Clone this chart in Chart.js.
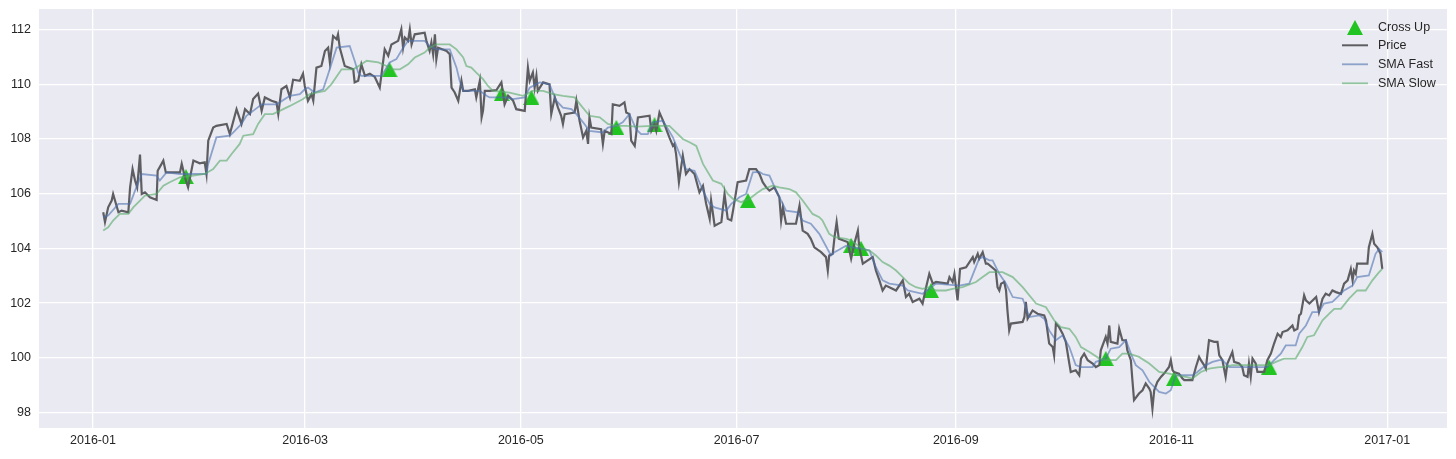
<!DOCTYPE html>
<html>
<head>
<meta charset="utf-8">
<script src="https://cdn.jsdelivr.net/npm/chart.js@4.4.1/dist/chart.umd.min.js"></script>
<style>
  html, body { margin: 0; padding: 0; background: #fff; }
  #chart { display: block; }
</style>
</head>
<body>
<canvas id="chart" width="1456" height="459"></canvas>
<script>
// x values are days since 2016-01-01
const tickDays = [0, 60, 121, 182, 244, 305, 366];
const tickLabels = ['2016-01', '2016-03', '2016-05', '2016-07', '2016-09', '2016-11', '2017-01'];
const yTicks = [98, 100, 102, 104, 106, 108, 110, 112];

const priceSeries = [
  [2.9,105.32],[3.4,104.96],[4.3,105.50],[5.3,105.75],[5.7,105.99],[6.5,105.63],[7.2,105.32],[8.1,105.38],[10.0,105.32],[10.5,106.23],
  [11.2,106.90],[11.9,106.48],[12.5,106.23],[13.3,107.43],[13.8,105.99],[14.7,106.05],[16.1,105.87],[18.0,105.77],[18.3,106.84],[19.4,107.09],
  [19.9,107.21],[20.6,106.78],[22.7,106.78],[24.6,106.78],[25.1,107.09],[26.0,106.60],[26.9,106.23],[28.4,107.21],[30.2,107.11],[31.6,107.15],
  [32.1,106.72],[32.6,107.94],[34.0,108.42],[34.9,108.48],[37.8,108.55],[38.7,108.18],[40.6,109.09],[42.0,108.55],[43.0,109.09],[44.4,108.91],
  [45.3,109.46],[46.7,109.66],[47.7,109.03],[48.6,109.52],[50.5,109.40],[51.9,109.34],[52.4,108.91],[53.3,109.82],[54.7,109.94],[55.7,109.52],
  [56.6,110.17],[58.5,110.13],[59.4,110.39],[59.9,109.94],[60.8,109.40],[61.8,109.64],[62.3,109.40],[63.2,110.61],[64.6,110.67],[65.6,111.22],
  [66.5,111.34],[67.0,110.80],[67.9,111.77],[68.9,111.65],[69.3,111.83],[69.8,111.34],[70.3,111.10],[71.2,110.67],[73.6,110.55],[74.0,110.07],
  [75.0,110.13],[75.9,110.73],[76.9,110.31],[78.3,110.39],[79.7,110.27],[81.1,109.88],[81.6,110.37],[82.5,111.28],[83.5,111.04],[84.4,111.46],
  [86.3,111.59],[87.2,112.01],[87.7,111.34],[88.2,111.71],[89.1,111.59],[89.6,112.01],[90.1,111.46],[91.0,111.83],[93.8,111.89],[94.3,111.59],
  [95.2,111.22],[95.7,111.53],[96.2,111.10],[96.7,111.83],[97.1,110.92],[97.6,111.34],[100.0,111.22],[100.9,111.10],[101.4,109.88],[102.3,109.70],
  [103.3,109.40],[104.2,110.13],[104.7,109.76],[106.1,109.76],[108.0,109.82],[108.4,109.52],[109.4,110.13],[109.9,108.79],[110.3,109.03],[110.8,109.76],
  [112.2,109.76],[114.1,109.79],[115.5,110.07],[116.4,109.27],[117.4,109.58],[118.8,109.40],[119.7,109.09],[122.1,109.03],[123.0,110.61],[123.5,110.13],
  [124.4,110.43],[124.9,109.88],[125.4,110.31],[125.8,109.76],[127.3,110.07],[129.1,110.00],[129.6,108.91],[130.6,109.52],[131.5,109.15],[132.4,108.85],
  [132.9,108.55],[133.4,108.91],[136.2,108.97],[136.7,109.40],[137.6,108.67],[138.6,108.06],[139.5,108.30],[140.0,107.82],[140.4,108.79],[140.9,108.42],
  [143.7,108.36],[144.2,107.82],[144.7,108.30],[146.6,108.18],[147.0,109.27],[148.9,109.21],[150.3,109.34],[150.8,108.97],[151.7,108.91],[152.2,107.94],
  [153.2,107.75],[153.6,108.18],[154.1,108.79],[157.4,108.85],[157.9,108.30],[158.8,108.55],[159.3,108.30],[160.2,108.97],[161.2,108.67],[163.0,108.06],
  [164.0,107.75],[164.4,107.82],[164.9,107.45],[165.7,106.42],[166.8,107.39],[167.7,106.72],[168.7,106.90],[170.1,106.72],[171.5,106.05],[172.5,106.29],
  [173.4,105.63],[174.4,105.08],[174.8,105.75],[175.8,104.83],[177.7,104.96],[178.6,105.99],[179.5,105.08],[180.5,105.02],[181.0,105.38],[182.3,106.42],
  [184.7,106.48],[185.6,106.90],[187.5,106.90],[188.5,106.72],[189.4,106.42],[190.4,106.23],[191.3,106.11],[192.7,106.23],[194.1,105.87],[194.6,105.02],
  [195.1,105.50],[196.0,104.90],[198.8,104.90],[199.8,105.56],[200.7,104.65],[202.1,104.53],[203.0,104.35],[204.0,104.04],[205.9,103.86],[207.3,103.68],
  [207.8,103.19],[208.2,103.74],[209.2,103.80],[209.7,104.41],[210.3,104.96],[210.9,104.35],[213.4,104.23],[214.4,103.62],[215.3,104.17],[216.3,104.65],
  [216.7,104.04],[217.7,103.44],[219.1,103.56],[220.5,103.68],[221.4,103.19],[222.4,102.83],[223.3,102.46],[224.2,102.64],[225.2,102.58],[227.1,102.46],
  [229.0,102.83],[229.9,102.22],[230.8,102.34],[231.8,102.04],[233.7,102.16],[234.6,101.98],[235.6,102.58],[236.5,103.07],[237.5,102.71],[238.4,102.77],
  [241.7,102.71],[242.2,102.95],[243.1,102.77],[243.6,103.07],[244.5,102.10],[245.2,103.25],[246.9,103.31],[248.8,103.68],[249.2,103.50],[250.2,103.80],
  [250.6,103.62],[251.6,103.86],[252.5,103.44],[253.0,103.44],[255.3,103.19],[255.8,102.58],[256.3,102.46],[256.8,102.71],[257.7,102.77],[258.2,102.46],
  [258.6,101.73],[259.1,101.00],[259.6,101.25],[262.9,101.31],[263.4,101.49],[263.8,102.04],[264.3,101.43],[265.7,101.73],[267.1,101.61],[269.0,101.55],
  [269.5,101.37],[270.4,100.52],[271.4,100.39],[271.8,100.09],[272.3,101.25],[273.2,101.12],[274.2,100.88],[275.1,100.58],[276.1,99.79],[276.5,99.48],
  [277.9,99.54],[278.9,99.36],[279.4,99.97],[280.3,100.15],[281.3,99.91],[282.7,99.79],[283.6,99.66],[284.6,99.73],[285.0,100.27],[286.4,100.76],
  [286.9,100.52],[287.4,101.18],[287.8,100.58],[289.7,100.52],[290.2,101.06],[291.1,100.64],[292.1,100.64],[292.5,100.27],[293.5,99.91],[293.9,99.24],
  [294.4,98.45],[295.8,98.69],[296.8,98.81],[297.7,99.06],[298.7,98.87],[299.1,98.75],[299.6,98.14],[300.1,98.81],[301.0,99.12],[302.0,99.30],
  [302.9,99.42],[304.3,99.66],[304.8,99.91],[305.3,99.54],[305.7,99.48],[307.1,99.42],[308.1,99.24],[308.6,99.18],[310.9,99.18],[311.9,99.66],
  [312.8,100.03],[313.3,99.91],[314.2,99.73],[314.7,99.60],[315.6,100.64],[317.1,100.58],[318.0,100.58],[318.5,100.09],[319.4,99.91],[320.3,99.30],
  [320.8,99.79],[322.2,100.21],[322.7,99.85],[324.1,99.79],[325.0,99.66],[325.5,99.36],[326.5,99.30],[326.9,99.79],[327.4,99.30],[327.9,99.97],
  [328.8,99.79],[329.3,99.48],[331.2,99.48],[332.1,99.91],[333.1,100.15],[334.0,100.52],[335.0,100.88],[335.9,100.76],[336.4,100.94],[337.8,101.00],
  [339.2,101.18],[339.7,101.00],[340.6,101.06],[341.1,101.55],[341.6,101.61],[342.5,102.28],[343.0,102.10],[344.0,101.98],[345.9,102.22],[346.7,101.67],
  [347.7,102.16],[348.6,102.34],[349.6,102.28],[350.5,102.46],[351.5,102.40],[352.9,102.34],[353.8,102.71],[354.8,102.83],[355.7,103.25],[356.2,102.83],
  [356.6,103.19],[357.1,103.07],[357.5,103.44],[360.4,103.44],[360.8,104.04],[361.8,104.53],[362.3,104.17],[363.2,104.04],[364.1,103.80],[364.6,103.25]
];

const fastSeries = [
  [2.9,105.14],[4.3,105.20],[7.2,105.63],[10.5,105.63],[11.9,106.11],[13.8,106.72],[18.0,106.66],[18.9,106.48],[20.8,106.78],[24.6,106.72],
  [32.1,106.72],[32.6,107.09],[34.9,108.06],[38.7,108.12],[39.7,108.24],[42.0,108.55],[43.4,108.85],[45.3,109.03],[47.7,109.27],[51.9,109.27],
  [52.8,109.34],[55.7,109.58],[58.5,109.64],[59.9,109.82],[60.8,109.88],[62.7,109.70],[65.1,109.82],[66.5,110.37],[68.9,111.34],[72.6,111.40],
  [74.0,110.86],[75.0,110.43],[75.9,110.31],[81.6,110.31],[83.9,110.80],[85.8,110.92],[87.7,111.34],[89.1,111.59],[93.8,111.59],[95.2,111.40],
  [97.1,111.28],[100.9,111.28],[102.8,110.61],[103.7,110.13],[104.7,109.76],[109.4,109.76],[111.3,109.58],[112.2,109.52],[116.9,109.52],[118.8,109.46],
  [122.1,109.52],[123.5,109.88],[126.3,110.07],[129.1,110.00],[131.0,109.40],[132.9,109.15],[135.3,109.09],[136.7,108.91],[138.6,108.61],[140.4,108.30],
  [144.2,108.24],[145.6,108.42],[148.0,108.48],[149.8,108.61],[151.7,108.91],[153.6,108.36],[155.0,108.18],[156.9,108.18],[158.3,108.61],[161.2,108.67],
  [164.0,108.06],[165.9,107.45],[167.7,106.90],[170.1,106.84],[172.5,106.11],[174.4,105.63],[175.8,105.50],[179.1,105.38],[180.5,105.63],[182.8,105.87],
  [184.7,105.99],[186.6,106.78],[188.5,106.80],[189.4,106.72],[191.3,106.66],[193.2,106.11],[196.0,105.38],[199.3,105.32],[200.7,105.02],[203.0,104.90],
  [205.4,104.53],[208.7,103.74],[209.7,103.86],[213.0,104.10],[214.8,104.04],[217.7,103.98],[219.6,103.92],[221.4,103.31],[223.3,102.83],[225.2,102.71],
  [229.0,102.64],[230.4,102.46],[234.6,102.34],[236.5,102.52],[238.4,102.71],[245.0,102.64],[247.8,102.71],[250.6,103.62],[251.6,103.68],[253.5,103.56],
  [254.4,103.56],[256.3,103.07],[258.2,102.71],[260.1,102.22],[262.9,102.16],[264.8,101.49],[267.6,101.55],[269.0,101.43],[270.4,101.00],[272.3,100.64],
  [274.2,100.82],[276.1,100.39],[277.9,99.73],[279.4,99.66],[282.7,99.66],[283.6,99.85],[286.4,99.97],[287.8,100.33],[290.2,100.39],[292.1,100.64],
  [293.5,100.15],[294.9,99.73],[296.8,99.54],[298.7,99.12],[301.5,98.75],[303.4,98.69],[304.8,98.81],[306.2,99.36],[308.1,99.36],[310.9,99.36],
  [312.3,99.48],[314.7,99.73],[316.6,99.85],[318.5,99.91],[319.4,99.91],[321.3,99.66],[326.9,99.66],[332.1,99.66],[334.0,99.91],[335.9,100.15],
  [337.3,100.45],[340.1,100.45],[341.1,100.88],[343.0,101.18],[344.8,101.67],[346.7,101.67],[348.1,101.98],[350.5,102.04],[351.9,102.22],[353.8,102.46],
  [356.2,102.64],[357.5,102.95],[360.8,103.01],[362.7,103.80],[363.7,103.98],[364.6,103.86]
];

const slowSeries = [
  [2.9,104.65],[4.3,104.77],[5.7,105.02],[7.6,105.26],[10.0,105.26],[11.4,105.50],[13.3,105.75],[14.7,105.93],[18.0,105.99],[19.9,106.29],
  [21.7,106.42],[24.6,106.60],[28.4,106.66],[31.6,106.72],[34.0,106.90],[35.9,107.21],[37.8,107.21],[39.2,107.45],[41.5,107.82],[42.5,108.12],
  [45.3,108.18],[46.7,108.55],[48.6,108.91],[50.9,108.91],[52.8,109.03],[55.7,109.21],[58.5,109.40],[59.4,109.46],[61.3,109.64],[63.2,109.70],
  [65.6,109.76],[67.4,110.00],[70.3,110.55],[73.6,110.55],[75.9,110.73],[77.4,110.86],[80.7,110.80],[83.0,110.67],[84.4,110.55],[86.8,110.55],
  [89.1,110.73],[91.0,110.98],[93.8,111.16],[95.2,111.34],[97.1,111.46],[100.9,111.46],[102.8,111.28],[104.7,110.98],[105.6,110.67],[107.0,110.61],
  [108.4,110.43],[110.3,110.19],[111.7,109.94],[113.1,109.76],[117.8,109.70],[121.6,109.58],[124.4,109.76],[127.3,109.76],[130.1,109.64],[132.9,109.58],
  [136.2,109.52],[138.1,109.21],[140.4,108.85],[143.3,108.79],[145.6,108.55],[148.0,108.48],[150.8,108.48],[153.6,108.45],[158.3,108.48],[163.0,108.48],
  [164.9,108.24],[166.8,108.00],[168.7,107.88],[170.6,107.75],[172.5,107.09],[175.3,106.48],[177.7,106.36],[179.5,105.99],[181.0,105.81],[183.3,105.69],
  [185.6,105.81],[187.5,106.00],[189.4,106.17],[192.2,106.29],[194.1,106.23],[196.9,106.17],[198.8,106.05],[200.7,105.75],[203.5,105.26],[205.4,105.14],
  [206.3,105.02],[208.2,104.53],[209.7,104.41],[213.0,104.35],[214.4,104.29],[217.7,103.98],[219.6,103.92],[221.4,103.74],[223.3,103.50],[225.2,103.37],
  [227.1,103.19],[229.0,102.95],[230.8,102.71],[232.7,102.58],[234.6,102.52],[236.5,102.58],[238.4,102.46],[241.2,102.46],[243.1,102.52],[245.9,102.58],
  [249.7,102.77],[251.6,102.95],[253.5,103.13],[254.4,103.13],[257.2,103.13],[260.1,102.95],[262.9,102.58],[266.7,101.98],[269.5,101.85],[271.8,101.37],
  [273.7,101.12],[276.1,101.06],[277.9,100.76],[279.4,100.39],[281.8,100.21],[284.6,99.97],[286.4,99.91],[289.3,99.91],[291.1,100.15],[293.0,100.15],
  [295.8,100.03],[298.7,99.79],[301.5,99.48],[304.3,99.42],[306.2,99.36],[309.0,99.30],[310.9,99.24],[313.3,99.48],[315.6,99.60],[318.5,99.66],
  [319.4,99.66],[322.2,99.73],[326.9,99.73],[332.6,99.73],[334.5,99.85],[336.8,99.97],[340.1,99.97],[342.0,100.39],[343.4,100.76],[345.3,100.82],
  [347.7,101.37],[349.6,101.61],[351.0,101.79],[352.9,101.79],[355.2,102.16],[357.5,102.46],[359.9,102.46],[361.8,102.83],[363.7,103.13],[364.6,103.25]
];

const crossSeries = [
  [26.3,106.62],[83.9,110.53],[115.6,109.66],[124.0,109.52],[148.0,108.42],[158.8,108.52],[185.2,105.75],
  [214.4,104.11],[217.2,104.00],[237.0,102.46],[286.4,99.97],[305.7,99.24],[332.6,99.66]
];

const toPoints = s => s.map(([x, y]) => ({ x, y }));

const BG = '#EAEAF2';
const PRICE_COLOR = '#5e5e62';
const FAST_COLOR = 'rgba(76,114,176,0.6)';
const SLOW_COLOR = 'rgba(85,168,104,0.6)';
const CROSS_COLOR = '#22c422';
const FONT = { family: '"Liberation Sans", Arial, sans-serif', size: 12.5 };

function triangleImage(w, h, color) {
  const c = document.createElement('canvas');
  c.width = w; c.height = h;
  const g = c.getContext('2d');
  g.fillStyle = color;
  g.beginPath();
  g.moveTo(w / 2, 0);
  g.lineTo(w, h);
  g.lineTo(0, h);
  g.closePath();
  g.fill();
  return c;
}
const tri = triangleImage(16, 15, CROSS_COLOR);

// plot background
const bgPlugin = {
  id: 'bg',
  beforeDraw(chart) {
    const { ctx, chartArea: a } = chart;
    ctx.save();
    ctx.fillStyle = '#fff';
    ctx.fillRect(0, 0, chart.width, chart.height);
    ctx.fillStyle = BG;
    ctx.fillRect(a.left, a.top, a.right - a.left, a.bottom - a.top);
    ctx.restore();
  }
};

// matplotlib-like legend, top right inside the plot
const legendPlugin = {
  id: 'mplLegend',
  afterDraw(chart) {
    const { ctx, chartArea: a } = chart;
    const x0 = a.right - 105, x1 = a.right - 79, tx = a.right - 69;
    const rows = [
      { label: 'Cross Up', y: a.top + 18.5 },
      { label: 'Price', y: a.top + 36.3, color: PRICE_COLOR, w: 2 },
      { label: 'SMA Fast', y: a.top + 55.3, color: FAST_COLOR, w: 1.8 },
      { label: 'SMA Slow', y: a.top + 74.3, color: SLOW_COLOR, w: 1.8 }
    ];
    ctx.save();
    ctx.font = `${FONT.size}px ${FONT.family}`;
    ctx.textBaseline = 'middle';
    ctx.fillStyle = '#262626';
    rows.forEach(r => {
      if (r.color) {
        ctx.strokeStyle = r.color;
        ctx.lineWidth = r.w;
        ctx.beginPath();
        ctx.moveTo(x0, r.y);
        ctx.lineTo(x1, r.y);
        ctx.stroke();
      } else {
        ctx.drawImage(tri, (x0 + x1) / 2 - tri.width / 2, r.y - tri.height / 2);
      }
      ctx.fillText(r.label, tx, r.y);
    });
    ctx.restore();
  }
};

new Chart(document.getElementById('chart'), {
  type: 'line',
  data: {
    datasets: [
      { label: 'SMA Slow', data: toPoints(slowSeries), borderColor: SLOW_COLOR, borderWidth: 1.8, pointRadius: 0, tension: 0, order: 1 },
      { label: 'SMA Fast', data: toPoints(fastSeries), borderColor: FAST_COLOR, borderWidth: 1.8, pointRadius: 0, tension: 0, order: 2 },
      { label: 'Price', data: toPoints(priceSeries), borderColor: PRICE_COLOR, borderWidth: 2.2, pointRadius: 0, tension: 0, order: 3 },
      { label: 'Cross Up', data: toPoints(crossSeries), showLine: false, pointStyle: tri, pointRadius: 8, order: 4 }
    ]
  },
  options: {
    responsive: false,
    animation: false,
    devicePixelRatio: 1,
    layout: { padding: { top: 8, right: 8, left: 0, bottom: 0 } },
    plugins: { legend: { display: false }, tooltip: { enabled: false } },
    scales: {
      x: {
        type: 'linear',
        min: -15.26,
        max: 382.9,
        border: { display: false },
        grid: { color: '#fff', lineWidth: 1.3, drawTicks: false },
        afterBuildTicks: axis => { axis.ticks = tickDays.map(v => ({ value: v })); },
        afterFit: axis => {
          axis.height = 31;
          axis.paddingLeft = 0; axis.paddingRight = 0;
        },
        ticks: {
          padding: 5,
          color: '#262626',
          font: FONT,
          maxRotation: 0,
          autoSkip: false,
          callback: (v, i) => tickLabels[i]
        }
      },
      y: {
        min: 97.43,
        max: 112.755,
        border: { display: false },
        grid: { color: '#fff', lineWidth: 1.3, drawTicks: false },
        afterBuildTicks: axis => { axis.ticks = yTicks.map(v => ({ value: v })); },
        afterFit: axis => {
          axis.width = 39;
          axis.paddingTop = 0; axis.paddingBottom = 0;
        },
        ticks: {
          padding: 8,
          color: '#262626',
          font: FONT,
          callback: v => String(v)
        }
      }
    }
  },
  plugins: [bgPlugin, legendPlugin]
});
</script>
</body>
</html>
